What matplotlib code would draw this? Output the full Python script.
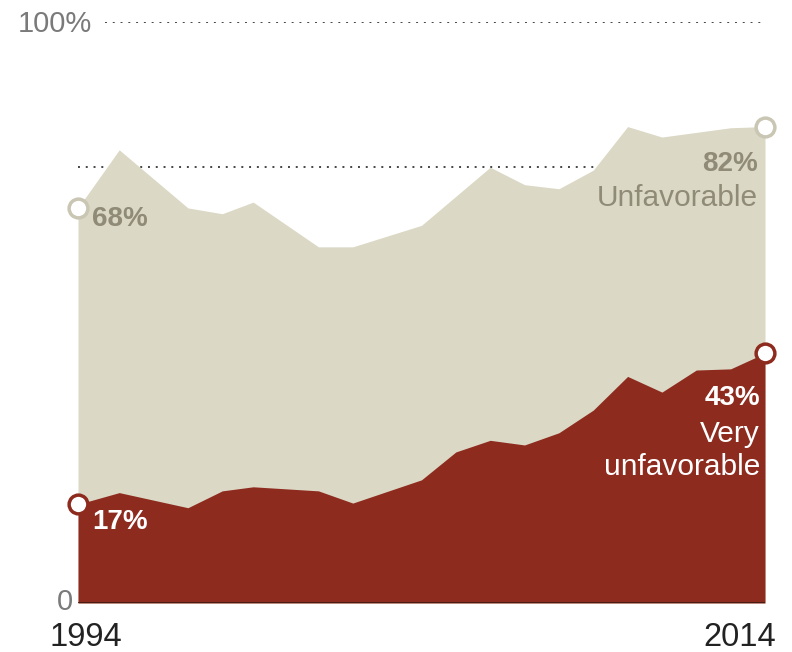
import matplotlib
matplotlib.use("Agg")
import matplotlib.pyplot as plt

plt.rcParams['font.family'] = ['Liberation Sans', 'DejaVu Sans']

# survey dates (fractional years) and shares
years = [1994, 1995.2, 1997.2, 1998.2, 1999.1, 2001, 2002, 2004, 2005, 2006,
         2007, 2008, 2009, 2010, 2011, 2012, 2013, 2014]
unfavorable = [68, 78, 68, 67, 69, 61.3, 61.3, 65, 70, 75,
               72, 71.3, 74.5, 82, 80.2, 81, 81.8, 82]
very_unfavorable = [17, 19, 16.4, 19.3, 20, 19.3, 17.2, 21.2, 26, 28,
                    27.2, 29.3, 33.2, 39, 36.3, 40.1, 40.3, 43]

BEIGE = '#dbd8c5'
BEIGE_TXT = '#8f8b77'
RED = '#8e2b1f'
GRAY = '#7a7a7a'

fig = plt.figure(figsize=(7.92, 6.52), dpi=100)
ax = fig.add_axes([78 / 792, 1 - 603 / 652, (765 - 78) / 792, (603 - 22) / 652])
ax.set_xlim(1994, 2014)
ax.set_ylim(0, 100)
ax.axis('off')

# dotted reference lines
ax.axhline(100, xmin=0.04, xmax=1, color='#444444', lw=1.4, ls=(0, (1, 3)), zorder=0)
ax.axhline(75, color='#444444', lw=1.4, ls=(0, (1, 3)), zorder=0)

ax.fill_between(years, 0, unfavorable, color=BEIGE, lw=0, zorder=1)
ax.fill_between(years, 0, very_unfavorable, color=RED, lw=0, zorder=2)
ax.axhline(0, color='#3a1a14', lw=1.2, zorder=3)

# end-point markers
for yv, ec in [(unfavorable, '#c9c6b3'), (very_unfavorable, RED)]:
    ax.plot([years[0], years[-1]], [yv[0], yv[-1]], 'o', ms=13.5, mfc='white',
            mec=ec, mew=2.5, zorder=5, clip_on=False)

# axis labels
fig.text(92 / 792, 1 - 24 / 652, '100%', ha='right', va='center', fontsize=21, color=GRAY)
fig.text(73 / 792, 1 - 602 / 652, '0', ha='right', va='center', fontsize=21, color=GRAY)
fig.text(49 / 792, 1 - 637 / 652, '1994', ha='left', va='center', fontsize=23.5, color='#222222')
fig.text(776 / 792, 1 - 637 / 652, '2014', ha='right', va='center', fontsize=23.5, color='#222222')

# series labels
fig.text(92 / 792, 1 - 219 / 652, f'{unfavorable[0]:.0f}%', ha='left', va='center',
         fontsize=20, fontweight='bold', color=BEIGE_TXT)
fig.text(758 / 792, 1 - 164 / 652, f'{unfavorable[-1]:.0f}%', ha='right', va='center',
         fontsize=20, fontweight='bold', color=BEIGE_TXT)
fig.text(758 / 792, 1 - 198 / 652, 'Unfavorable', ha='right', va='center',
         fontsize=21.5, color=BEIGE_TXT)
fig.text(760 / 792, 1 - 398 / 652, f'{very_unfavorable[-1]:.0f}%', ha='right', va='center',
         fontsize=20, fontweight='bold', color='white')
fig.text(92 / 792, 1 - 522 / 652, f'{very_unfavorable[0]:.0f}%', ha='left', va='center',
         fontsize=20, fontweight='bold', color='white')
fig.text(760 / 792, 1 - 434 / 652, 'Very', ha='right', va='center', fontsize=21.5, color='white')
fig.text(760 / 792, 1 - 467 / 652, 'unfavorable', ha='right', va='center', fontsize=21.5, color='white')

fig.savefig('out.png', dpi=100)
